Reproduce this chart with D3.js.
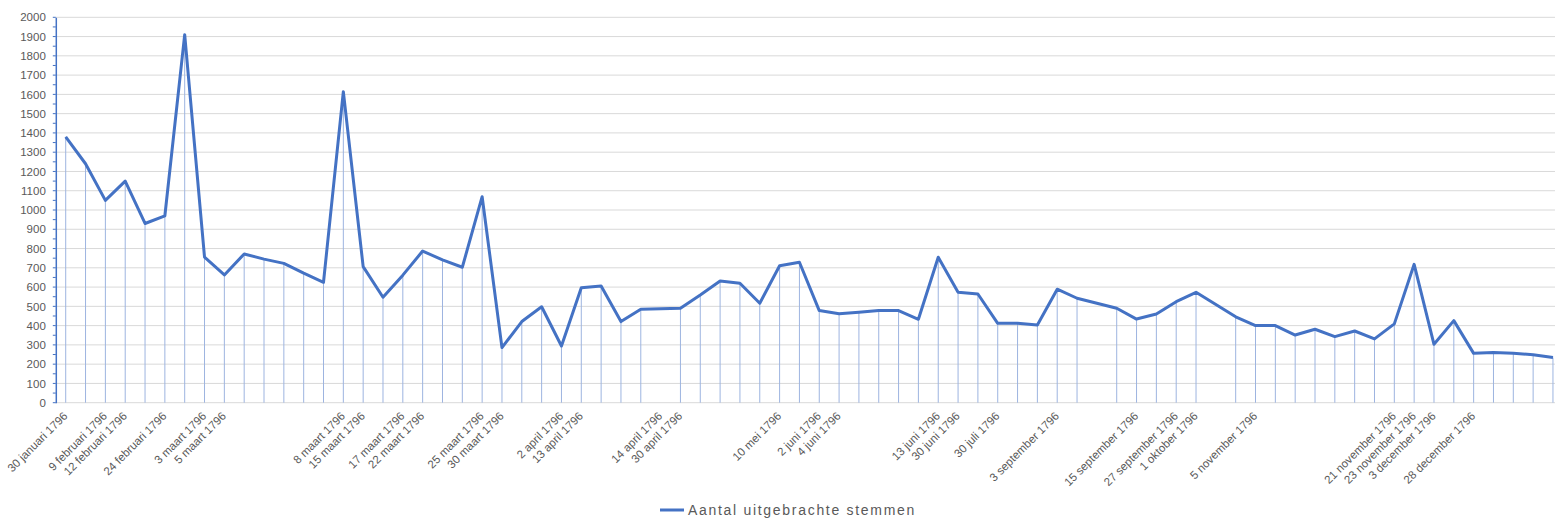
<!DOCTYPE html>
<html>
<head>
<meta charset="utf-8">
<script src="https://cdn.jsdelivr.net/npm/d3@7"></script>
<style>
  body { margin: 0; background: #fff; }
  svg { display: block; font-family: "Liberation Sans", Arial, sans-serif; }
  .tick text { fill: #595959; }
</style>
</head>
<body>
<svg width="1555" height="524"></svg>
<script>
// category labels (blank cells stay empty on the axis)
const dates = [
  "30 januari 1796", "", "9 februari 1796", "12 februari 1796", "", "24 februari 1796", "", "3 maart 1796", "5 maart 1796", "",
  "", "", "", "", "8 maart 1796", "15 maart 1796", "", "17 maart 1796", "22 maart 1796", "",
  "", "25 maart 1796", "30 maart 1796", "", "", "2 april 1796", "13 april 1796", "", "", "",
  "14 april 1796", "30 april 1796", "", "", "", "", "10 mei 1796", "", "2 juni 1796", "4 juni 1796",
  "", "", "", "", "13 juni 1796", "30 juni 1796", "", "30 juli 1796", "", "",
  "3 september 1796", "", "", "", "15 september 1796", "", "27 september 1796", "1 oktober 1796", "", "",
  "5 november 1796", "", "", "", "", "", "", "21 november 1796", "23 november 1796", "3 december 1796",
  "", "28 december 1796", "", "", "", ""
]

// Aantal uitgebrachte stemmen (null = no value, line bridges the gap)
const stemmen = [
  1380, 1240, 1050, 1150, 930, 970, 1910, 755, 663, 772,
  745, 723, 672, 625, 1614, 706, 547, 662, 787, 741,
  703, 1069, 286, 421, 498, 294, 597, 606, 421, 485,
  null, 490, 559, 632, 620, 516, 711, 729, 478, 462,
  469, 478, 478, 433, 755, 573, 564, 412, 412, 403,
  589, 542, null, 490, 434, 460, 524, 573, null, 446,
  400, 400, 351, 381, 343, 372, 331, 409, 718, 303,
  426, 256, 260, 256, 249, 234
]

const yTicks = d3.range(0, 2001, 100)
const seriesName = "Aantal uitgebrachte stemmen"

const blue = '#4472C4'
const svg = d3.select('svg')
const mLeft = 55.8, mTop = 17.3, mBottom = 402.7
const step = 19.83
const mRight = mLeft + step * dates.length

const x = d3.scalePoint()
  .domain(d3.range(dates.length))
  .range([mLeft, mRight])
  .padding(0.5)

const y = d3.scaleLinear()
  .domain([0, 2000])
  .range([mBottom, mTop])

// gridlines
svg.append('g')
  .selectAll('line')
  .data(yTicks)
  .enter().append('line')
  .attr('x1', mLeft).attr('x2', mRight)
  .attr('y1', d => y(d)).attr('y2', d => y(d))
  .attr('stroke', '#d9d9d9')
  .attr('stroke-width', 1)

// y axis
const yAxis = svg.append('g')
  .attr('transform', `translate(${mLeft},0)`)
  .call(d3.axisLeft(y).tickValues(yTicks).tickSize(0).tickPadding(10).tickFormat(d3.format('d')))
yAxis.select('.domain').attr('stroke', blue).attr('stroke-width', 1.5)
yAxis.selectAll('text').attr('font-size', 11.5).attr('fill', '#595959')

// minor ticks on the y axis
svg.append('g')
  .selectAll('line')
  .data(d3.range(0, 2001, 50))
  .enter().append('line')
  .attr('x1', mLeft - 3).attr('x2', mLeft)
  .attr('y1', d => y(d)).attr('y2', d => y(d))
  .attr('stroke', blue)
  .attr('stroke-width', 1)

const pts = stemmen.map((v, i) => ({i, v})).filter(d => d.v != null)

// drop lines
svg.append('g')
  .selectAll('line')
  .data(pts)
  .enter().append('line')
  .attr('x1', d => x(d.i)).attr('x2', d => x(d.i))
  .attr('y1', d => y(d.v)).attr('y2', y(0))
  .attr('stroke', '#9db4e0')
  .attr('stroke-width', 1)

// x axis labels
const xAxis = svg.append('g')
  .attr('transform', `translate(0,${mBottom})`)
  .call(d3.axisBottom(x).tickSize(0).tickFormat(i => dates[i]))
xAxis.select('.domain').remove()
xAxis.selectAll('text')
  .attr('font-size', 11.5)
  .attr('fill', '#595959')
  .attr('text-anchor', 'end')
  .attr('dy', 0)
  .attr('y', 0)
  .attr('transform', 'translate(2,14) rotate(-45)')

// the line
svg.append('path')
  .datum(pts)
  .attr('fill', 'none')
  .attr('stroke', blue)
  .attr('stroke-width', 3)
  .attr('stroke-linejoin', 'round')
  .attr('d', d3.line().x(d => x(d.i)).y(d => y(d.v)))

// legend
const lg = svg.append('g').attr('transform', 'translate(660,510)')
lg.append('line').attr('x1', 0).attr('x2', 24).attr('y1', 0).attr('y2', 0)
  .attr('stroke', blue).attr('stroke-width', 3)
lg.append('text').attr('x', 28).attr('y', 0).attr('dy', '0.35em')
  .attr('font-size', 14).attr('fill', '#595959')
  .attr('letter-spacing', 1.7)
  .text(seriesName)
</script>
</body>
</html>
